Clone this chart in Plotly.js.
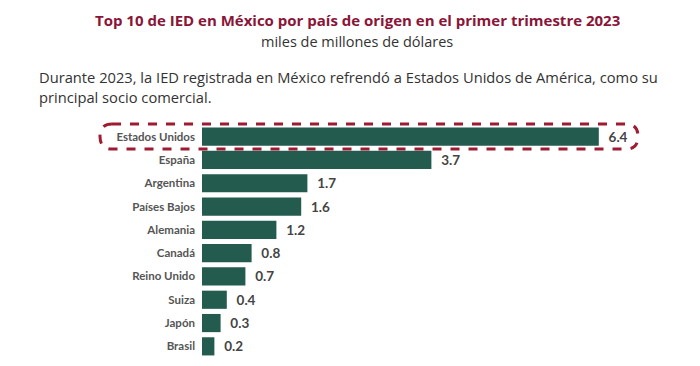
<!DOCTYPE html>
<html>
<head>
<meta charset="utf-8">
<script src="https://cdn.plot.ly/plotly-3.0.1.min.js"></script>
<style>html,body{margin:0;padding:0;background:#fff;}#chart{width:700px;height:366px;}</style>
</head>
<body>
<div id="chart"></div>
<script>
const countries = ["Estados Unidos","España","Argentina","Países Bajos","Alemania","Canadá","Reino Unido","Suiza","Japón","Brasil"];
const values = [6.4, 3.7, 1.7, 1.6, 1.2, 0.8, 0.7, 0.4, 0.3, 0.2];
const valueLabels = ["6.4","3.7","1.7","1.6","1.2","0.8","0.7","0.4","0.3","0.2"];

const FONT = "Lato, 'Open Sans', sans-serif";
const L = 202, T = 125, W = 700, H = 366;
const plotW = 465, plotH = 233;
const R = W - L - plotW, B = H - T - plotH;
function px(x){ return (x - L) / plotW; }
function py(y){ return (T + plotH - y) / plotH; }

// rounded dashed highlight around first row
const x0 = px(100), x1 = px(638), y0 = py(149), y1 = py(124);
const rx = 12 / plotW, ry = 12.5 / plotH;
const pathStr = `M ${x0+rx} ${y1} L ${x1-rx} ${y1} Q ${x1} ${y1} ${x1} ${y1-ry} Q ${x1} ${y0} ${x1-rx} ${y0} L ${x0+rx} ${y0} Q ${x0} ${y0} ${x0} ${y0+ry} Q ${x0} ${y1} ${x0+rx} ${y1} Z`;

const trace = {
  type: "bar",
  orientation: "h",
  y: countries,
  x: values,
  text: valueLabels,
  texttemplate: "\u2002%{text}",
  textposition: "outside",
  cliponaxis: false,
  textfont: {family: FONT, size: 13.5, color: "#444", weight: 700},
  marker: {color: "#235b4e"},
  hoverinfo: "none"
};

const layout = {
  width: W, height: H,
  margin: {l: L, r: R, t: T, b: B},
  paper_bgcolor: "#fff", plot_bgcolor: "#fff",
  showlegend: false,
  bargap: 0.22,
  xaxis: {range: [0, 7.5], visible: false, fixedrange: true},
  yaxis: {autorange: "reversed", showgrid: false, zeroline: false, showline: false,
          ticks: "", ticklabelstandoff: 6,
          tickfont: {family: FONT, size: 11.5, color: "#555", weight: 700}},
  shapes: [{type: "path", xref: "paper", yref: "paper", path: pathStr,
            line: {color: "#9e1b32", width: 3, dash: "dash"}, fillcolor: "rgba(0,0,0,0)"}],
  annotations: [
    {text: "Top 10 de IED en México por país de origen en el primer trimestre 2023", xref: "paper", yref: "paper",
     x: px(357), y: py(20), xanchor: "center", yanchor: "middle", showarrow: false,
     font: {family: "'Open Sans', sans-serif", size: 15, color: "#8a1538", weight: 700}},
    {text: "miles de millones de dólares", xref: "paper", yref: "paper",
     x: px(357), y: py(41), xanchor: "center", yanchor: "middle", showarrow: false,
     font: {family: "'Open Sans', sans-serif", size: 14.5, color: "#333"}},
    {text: "Durante 2023, la IED registrada en México refrendó a Estados Unidos de América, como su", xref: "paper", yref: "paper",
     x: px(37), y: py(77), xanchor: "left", yanchor: "middle", showarrow: false,
     font: {family: "'Open Sans', sans-serif", size: 14.7, color: "#333"}},
    {text: "principal socio comercial.", xref: "paper", yref: "paper",
     x: px(37), y: py(97), xanchor: "left", yanchor: "middle", showarrow: false,
     font: {family: "'Open Sans', sans-serif", size: 14.7, color: "#333"}}
  ]
};

Plotly.newPlot("chart", [trace], layout, {displayModeBar: false, staticPlot: true});
</script>
</body>
</html>
